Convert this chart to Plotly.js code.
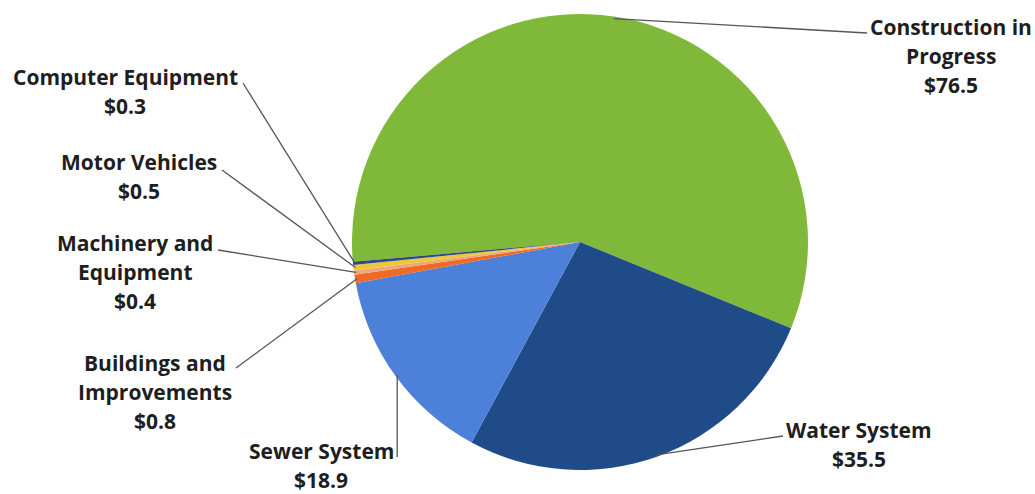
<!DOCTYPE html>
<html>
<head>
<meta charset="utf-8">
<script src="https://cdn.plot.ly/plotly-3.0.1.min.js"></script>
<style>html,body{margin:0;padding:0;background:#fff;}#chart{width:1035px;height:494px;}</style>
</head>
<body>
<div id="chart"></div>
<script>
// ---- data ----
const labels = ["Construction in Progress","Water System","Sewer System","Buildings and Improvements","Machinery and Equipment","Motor Vehicles","Computer Equipment"];
const values = [76.5, 35.5, 18.9, 0.8, 0.4, 0.5, 0.3];
const labelLines = [["Construction in","Progress"],["Water System"],["Sewer System"],["Buildings and","Improvements"],["Machinery and","Equipment"],["Motor Vehicles"],["Computer Equipment"]];
const colors = ["#80B93A","#1F4C88","#4D80D8","#EE6A26","#F1A77C","#EFC53A","#2A4A8A"];

// ---- layout (pixels) ----
const W = 1035, H = 494;
const CX = 580, CY = 242, R = 228;
const ROT = 265;
const FS = 21, LH = 29;
// label: center x, first line center y, leader end point (x,y)
const labelLayout = [
  {x: 951, y: 27,  ex: 867, ey: 33},
  {x: 859, y: 430, ex: 783, ey: 436},
  {x: 321, y: 451, ex: null, ey: 457},
  {x: 155, y: 363, ex: 236, ey: 368},
  {x: 135, y: 243, ex: 218, ey: 250},
  {x: 139, y: 162, ex: 222, ey: 170},
  {x: 125, y: 77,  ex: 243, ey: 83}
];

const px = v => v / W, py = v => 1 - v / H;
const total = values.reduce((a, b) => a + b, 0);

const annotations = [], shapes = [];
let ang = ROT;
values.forEach((v, i) => {
  const span = v / total * 360;
  const mid = (ang + span / 2) * Math.PI / 180;
  ang += span;
  const r = R - 2;
  const sx = CX + r * Math.sin(mid), sy = CY - r * Math.cos(mid);
  const L = labelLayout[i];
  const lines = labelLines[i].concat(["$" + v.toFixed(1)]);
  lines.forEach((t, k) => {
    annotations.push({
      xref: "paper", yref: "paper", x: px(L.x), y: py(L.y + k * LH),
      xanchor: "center", yanchor: "middle", showarrow: false, borderpad: 0,
      text: "<b>" + t + "</b>",
      font: {family: "'Open Sans', sans-serif", size: FS, color: "#1e1e1e"}
    });
  });
  const ex = L.ex === null ? sx : L.ex;
  shapes.push({
    type: "path", xref: "paper", yref: "paper",
    path: "M" + px(sx) + "," + py(sy) + " L" + px(ex) + "," + py(L.ey),
    line: {color: "#555555", width: 1.3}
  });
});

const trace = {
  type: "pie",
  labels: labels,
  values: values,
  sort: false,
  direction: "clockwise",
  rotation: ROT,
  marker: {colors: colors, line: {width: 0}},
  textinfo: "none",
  hoverinfo: "label+value",
  domain: {x: [px(CX - R), px(CX + R)], y: [py(CY + R), py(CY - R)]}
};

Plotly.newPlot("chart", [trace], {
  width: W, height: H,
  margin: {l: 0, r: 0, t: 0, b: 0},
  paper_bgcolor: "#ffffff",
  showlegend: false,
  annotations: annotations,
  shapes: shapes
}, {displayModeBar: false, staticPlot: true});
</script>
</body>
</html>
